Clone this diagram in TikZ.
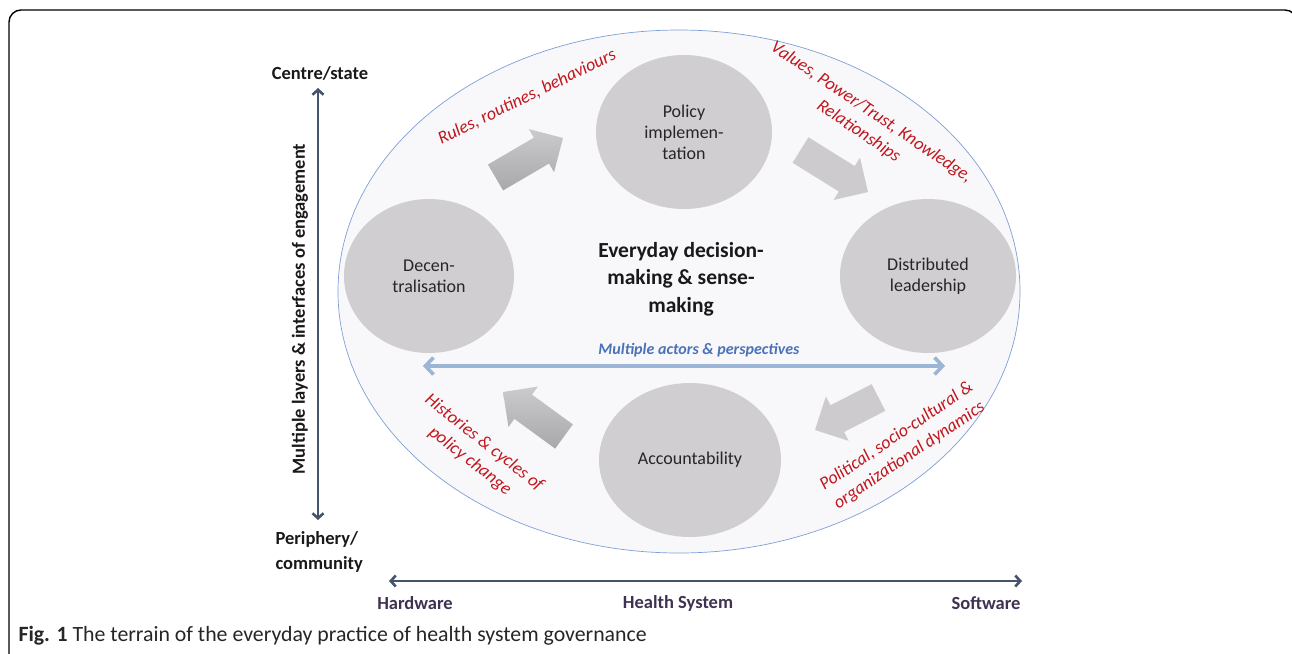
\documentclass[tikz,border=0pt]{standalone}
\usepackage{fontspec}
\setmainfont{Carlito}
\usetikzlibrary{arrows.meta,calc,shapes.geometric}
\definecolor{fieldfill}{HTML}{F8F8FB}
\definecolor{fieldline}{HTML}{7F9FD6}
\definecolor{discfill}{HTML}{D0CED1}
\definecolor{redlab}{HTML}{C0171D}
\definecolor{bluelab}{HTML}{4A72B8}
\definecolor{bluearr}{HTML}{9BB5D6}
\definecolor{axiscol}{HTML}{44546A}
\definecolor{hwcol}{HTML}{3F3151}
\definecolor{arrgray}{HTML}{CDCBCE}
\definecolor{arrlight}{HTML}{CBCBCD}
\definecolor{arrdark}{HTML}{A8A8AB}
\newcommand\blockarrow[3][]{%
  \coordinate (#2-neck) at ($(#3)!25pt!(#2)$);
  \path[#1] ($(#2)!15pt!90:(#3)$) -- ($(#2-neck)!15pt!90:(#3)$) -- ($(#2-neck)!25pt!90:(#3)$) -- (#3)
    -- ($(#2-neck)!25pt!-90:(#3)$) -- ($(#2-neck)!15pt!-90:(#3)$) -- ($(#2)!15pt!-90:(#3)$) -- cycle;}
\tikzset{
  disc/.style={ellipse, fill=discfill, inner sep=0pt, minimum width=176pt, minimum height=154pt,
    align=center, text=black!85, font=\fontsize{18}{21}\selectfont},
  redtext/.style={text=redlab, align=center, font=\fontsize{18}{23}\selectfont\itshape},
  axislab/.style={text=black!90, font=\fontsize{18.5}{25}\selectfont\bfseries},
  hwlab/.style={text=hwcol, font=\fontsize{18.5}{20}\selectfont\bfseries},
  axisarrow/.style={draw=axiscol, line width=2.6pt, {Straight Barb[length=5pt,width=11pt]}-{Straight Barb[length=5pt,width=11pt]}},
  grayarrow/.style={fill=arrgray},
  shadedarrow/.style={top color=arrlight, bottom color=arrdark},
}
\begin{document}
\begin{tikzpicture}[x=1pt,y=-1pt]
\useasboundingbox (0,0) rectangle (1292,653);
\clip (0,0) rectangle (1292,653);
% frame
\draw[line width=1.4pt, rounded corners=12pt] (9,680) -- (9,10) -- (1297,10) -- (1297,680);
% field
\node[ellipse, draw=fieldline, fill=fieldfill, line width=0.7pt, inner sep=0pt,
      minimum width=682pt, minimum height=523pt] (field) at (679,291.5) {};
% discs
\node[disc] (impl) at (684,132) {Policy\\implemen-\\tation};
\node[disc, minimum width=170pt] (decen) at (429,276) {Decen-\\tralisation};
\node[disc] (dist) at (928,276) {Distributed\\leadership};
\node[disc, minimum width=182pt] (acc) at (690,460) {Accountability};
% centre text
\node[align=center, text=black!90, font=\fontsize{21.5}{27.5}\selectfont\bfseries] (core) at (681,279)
  {Everyday decision-\\making \& sense-\\making};
% block arrows
\coordinate (tlA) at (495.5,177.5); \coordinate (tlB) at (563,138);
\coordinate (trA) at (800.5,150);   \coordinate (trB) at (868,192);
\coordinate (blA) at (564,436.5);   \coordinate (blB) at (503,392);
\coordinate (brA) at (878.5,397.5); \coordinate (brB) at (815,430);
\blockarrow[shadedarrow]{tlA}{tlB}
\blockarrow[grayarrow]{trA}{trB}
\blockarrow[shadedarrow]{blA}{blB}
\blockarrow[grayarrow]{brA}{brB}
% actors arrow
\coordinate (actL) at (423,366);
\coordinate (actR) at (945,366);
\draw[bluearr, line width=3.6pt, {Straight Barb[length=8pt,width=17pt]}-{Straight Barb[length=8pt,width=17pt]}] (actL) -- (actR);
\node[text=bluelab, font=\fontsize{16}{18}\selectfont\bfseries\itshape] (actors) at (699,350) {Multiple actors \& perspectives};
% red labels
\node[redtext, rotate=26] (rules) at (527,97) {Rules, routines, behaviours};
\node[redtext, rotate=-34] (values) at (865,122) {Values, Power/Trust, Knowledge,\\Relationships};
\node[redtext, rotate=-38] (hist) at (477,452) {Histories \& cycles of\\policy change};
\node[redtext, rotate=34] (pol) at (903,446) {Political, socio-cultural \&\\organizational dynamics};
% vertical axis
\node[axislab] (centre) at (320,73) {Centre/state};
\node[axislab, align=left, anchor=west] (periph) at (272,552) {Periphery/\\community};
\coordinate (vTop) at (318,88);
\coordinate (vBot) at (318,520);
\draw[axisarrow] (vBot) -- (vTop);
\node[axislab, rotate=90] (layers) at (300,309) {Multiple layers \& interfaces of engagement};
% horizontal axis
\coordinate (hL) at (389,581);
\coordinate (hR) at (1022,581);
\draw[axisarrow] (hL) -- (hR);
\node[hwlab] (hw) at (415,603) {Hardware};
\node[hwlab] (hs) at (678,603) {Health System};
\node[hwlab] (sw) at (986,603) {Software};
% caption
\node[anchor=west, text=black!85, font=\fontsize{21.8}{24}\selectfont] (cap) at (15,636)
  {\textbf{Fig. 1} The terrain of the everyday practice of health system governance};
\end{tikzpicture}
\end{document}
